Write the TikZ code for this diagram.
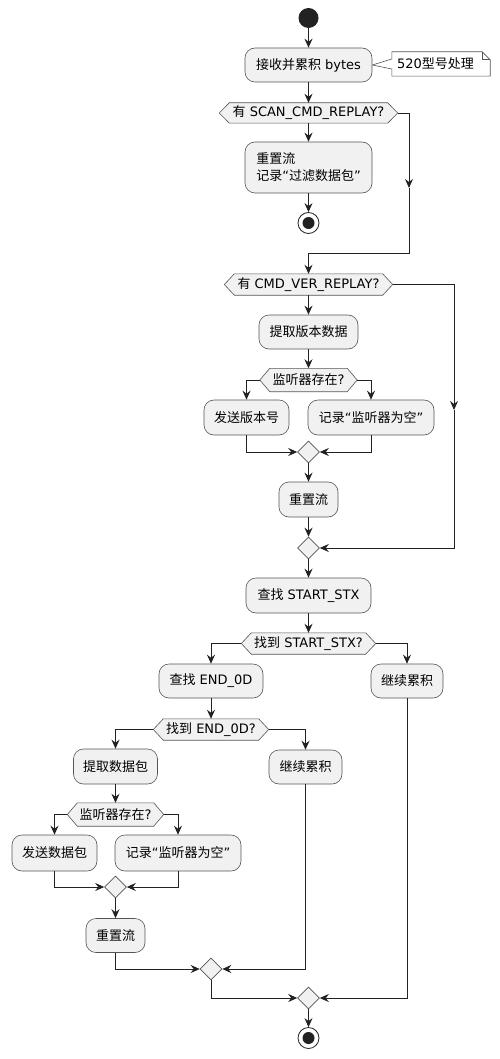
\documentclass[tikz,border=0pt]{standalone}
\usepackage{fontspec}
\setmainfont{DejaVu Sans}
\newfontfamily\cjkfont{Noto Sans CJK SC}
\newcommand\zh[1]{{\cjkfont #1}}
\usetikzlibrary{arrows.meta,backgrounds,shapes.geometric}
\definecolor{boxfill}{HTML}{F1F1F1}
\definecolor{linecol}{HTML}{222222}
\definecolor{bordercol}{HTML}{555555}
\definecolor{startcol}{HTML}{222222}
\tikzset{
  txt/.style={font=\fontsize{13}{17}\selectfont, text=black},
  act/.style={txt, draw=bordercol, fill=boxfill, rounded corners=10pt, line width=0.6pt, inner sep=0pt},
  dec/.style={txt, inner sep=0pt},
  hexborder/.style={draw=bordercol, fill=boxfill, line width=0.6pt},
  merge/.style={diamond, draw=bordercol, fill=boxfill, line width=0.6pt, minimum width=22pt, minimum height=22pt, inner sep=0pt},
  startdot/.style={circle, fill=startcol, minimum size=20pt, inner sep=0pt},
  endring/.style={circle, draw=linecol, fill=white, line width=0.8pt, minimum size=21pt, inner sep=0pt},
  enddot/.style={circle, fill=startcol, minimum size=12pt, inner sep=0pt},
  notebox/.style={txt, inner xsep=5pt, inner ysep=0pt, text width=88pt, align=left, minimum height=24pt},
  noteborder/.style={draw=bordercol, fill=white, line width=0.6pt},
  flow/.style={draw=linecol, line width=0.9pt, -{Stealth[length=9pt,width=8pt,inset=3pt]}},
  plainline/.style={draw=linecol, line width=0.9pt},
}
\begin{document}
\begin{tikzpicture}[x=1pt,y=-1pt]
\useasboundingbox (0,0) rectangle (500,1059);
% start / end
\node[startdot] (s) at (308.5,18) {};
\node[endring] (e1) at (308.5,223) {};
\node[enddot] (e1i) at (308.5,223) {};
\node[endring] (e2) at (308.5,1038) {};
\node[enddot] (e2i) at (308.5,1038) {};
% actions
\node[act, minimum width=127pt, minimum height=34pt] (b1) at (308.5,65) {\zh{接收并累积} bytes};
\node[act, minimum width=127pt, minimum height=51pt, align=left] (b2) at (308.5,167.5) {\zh{重置流}\\\zh{记录}“\zh{过滤数据包}”};
\node[act, minimum width=99pt, minimum height=34pt] (b3) at (308.5,332) {\zh{提取版本数据}};
\node[act, minimum width=85pt, minimum height=35pt] (b4) at (246.5,417.5) {\zh{发送版本号}};
\node[act, minimum width=126pt, minimum height=35pt] (b5) at (371,417.5) {\zh{记录}“\zh{监听器为空}”};
\node[act, minimum width=59pt, minimum height=35pt] (b6) at (308.5,499.5) {\zh{重置流}};
\node[act, minimum width=125pt, minimum height=35pt] (b7) at (308.5,595.5) {\zh{查找} START\_STX};
\node[act, minimum width=104pt, minimum height=34pt] (b8) at (211,681) {\zh{查找} END\_0D};
\node[act, minimum width=72pt, minimum height=34pt] (b9) at (407,681) {\zh{继续累积}};
\node[act, minimum width=73pt, minimum height=34pt] (b10) at (305.5,767) {\zh{继续累积}};
\node[act, minimum width=84pt, minimum height=35pt] (b11) at (115.5,766.5) {\zh{提取数据包}};
\node[act, minimum width=85pt, minimum height=36pt] (b12) at (54.5,853) {\zh{发送数据包}};
\node[act, minimum width=126pt, minimum height=36pt] (b13) at (178,853) {\zh{记录}“\zh{监听器为空}”};
\node[act, minimum width=59pt, minimum height=34pt] (b14) at (115.5,935.5) {\zh{重置流}};
% decisions (inner rectangles; hexagon outline drawn behind)
\node[dec, minimum width=158pt, minimum height=20pt] (d1) at (308.5,113) {\zh{有} SCAN\_CMD\_REPLAY?};
\node[dec, minimum width=148pt, minimum height=21pt] (d2) at (308.5,284.5) {\zh{有} CMD\_VER\_REPLAY?};
\node[dec, minimum width=77pt, minimum height=23pt] (d3) at (308.5,380) {\zh{监听器存在}?};
\node[dec, minimum width=114pt, minimum height=21pt] (d4) at (308.5,643.5) {\zh{找到} START\_STX?};
\node[dec, minimum width=95pt, minimum height=21pt] (d5) at (211,729.5) {\zh{找到} END\_0D?};
\node[dec, minimum width=76pt, minimum height=23pt] (d6) at (115.5,814.5) {\zh{监听器存在}?};
\begin{scope}[on background layer]
\foreach \dn in {d1,d2,d3,d4,d5,d6}
  \draw[hexborder] (\dn.north west) -- (\dn.north east) -- ([xshift=10pt]\dn.east) -- (\dn.south east) -- (\dn.south west) -- ([xshift=-10pt]\dn.west) -- cycle;
\end{scope}
% merges
\node[merge] (m1) at (308.5,452) {};
\node[merge] (m2) at (308.5,548) {};
\node[merge] (m3) at (115.5,887) {};
\node[merge] (m4) at (211,969) {};
\node[merge] (m5) at (308.5,998) {};
% note
\node[notebox] (n) at (441,64) {520\zh{型号处理}};
\begin{scope}[on background layer]
\draw[noteborder] (n.north west) -- ([xshift=-8pt]n.north east) -- ([yshift=-8pt]n.north east) -- (n.south east) -- (n.south west) -- ([yshift=-5pt]n.west) -- (b1.east) -- ([yshift=5pt]n.west) -- cycle;
\draw[noteborder, fill=none] ([xshift=-8pt]n.north east) -- ([xshift=-8pt,yshift=-8pt]n.north east) -- ([yshift=-8pt]n.north east);
\end{scope}
% junction coordinates
\coordinate (r1) at (409,188);
\coordinate (j1) at (308.5,253);
\coordinate (r2) at (454,410);
% connectors
\draw[flow] (s) -- (b1);
\draw[flow] (b1) -- (d1);
\draw[flow] (d1) -- (b2);
\draw[flow] (b2) -- (e1);
\draw[flow] ([xshift=10pt]d1.east) -| (r1);
\draw[flow] (r1) |- (j1) -- (d2);
\draw[flow] (d2) -- (b3);
\draw[flow] ([xshift=10pt]d2.east) -| (r2);
\draw[flow] (r2) |- (m2.east);
\draw[flow] (b3) -- (d3);
\draw[flow] ([xshift=-10pt]d3.west) -| (b4.north);
\draw[flow] ([xshift=10pt]d3.east) -| (b5.north);
\draw[flow] (b4.south) |- (m1.west);
\draw[flow] (b5.south) |- (m1.east);
\draw[flow] (m1) -- (b6);
\draw[flow] (b6) -- (m2);
\draw[flow] (m2) -- (b7);
\draw[flow] (b7) -- (d4);
\draw[flow] ([xshift=-10pt]d4.west) -| (b8.north);
\draw[flow] ([xshift=10pt]d4.east) -| (b9.north);
\draw[flow] (b8) -- (d5);
\draw[flow] ([xshift=-10pt]d5.west) -| (b11.north);
\draw[flow] ([xshift=10pt]d5.east) -| (b10.north);
\draw[flow] (b11) -- (d6);
\draw[flow] ([xshift=-10pt]d6.west) -| (b12.north);
\draw[flow] ([xshift=10pt]d6.east) -| (b13.north);
\draw[flow] (b12.south) |- (m3.west);
\draw[flow] (b13.south) |- (m3.east);
\draw[flow] (m3) -- (b14);
\draw[flow] (b14.south) |- (m4.west);
\draw[flow] (b10.south) |- (m4.east);
\draw[flow] (m4.south) |- (m5.west);
\draw[flow] (b9.south) |- (m5.east);
\draw[flow] (m5) -- (e2);
\end{tikzpicture}
\end{document}
